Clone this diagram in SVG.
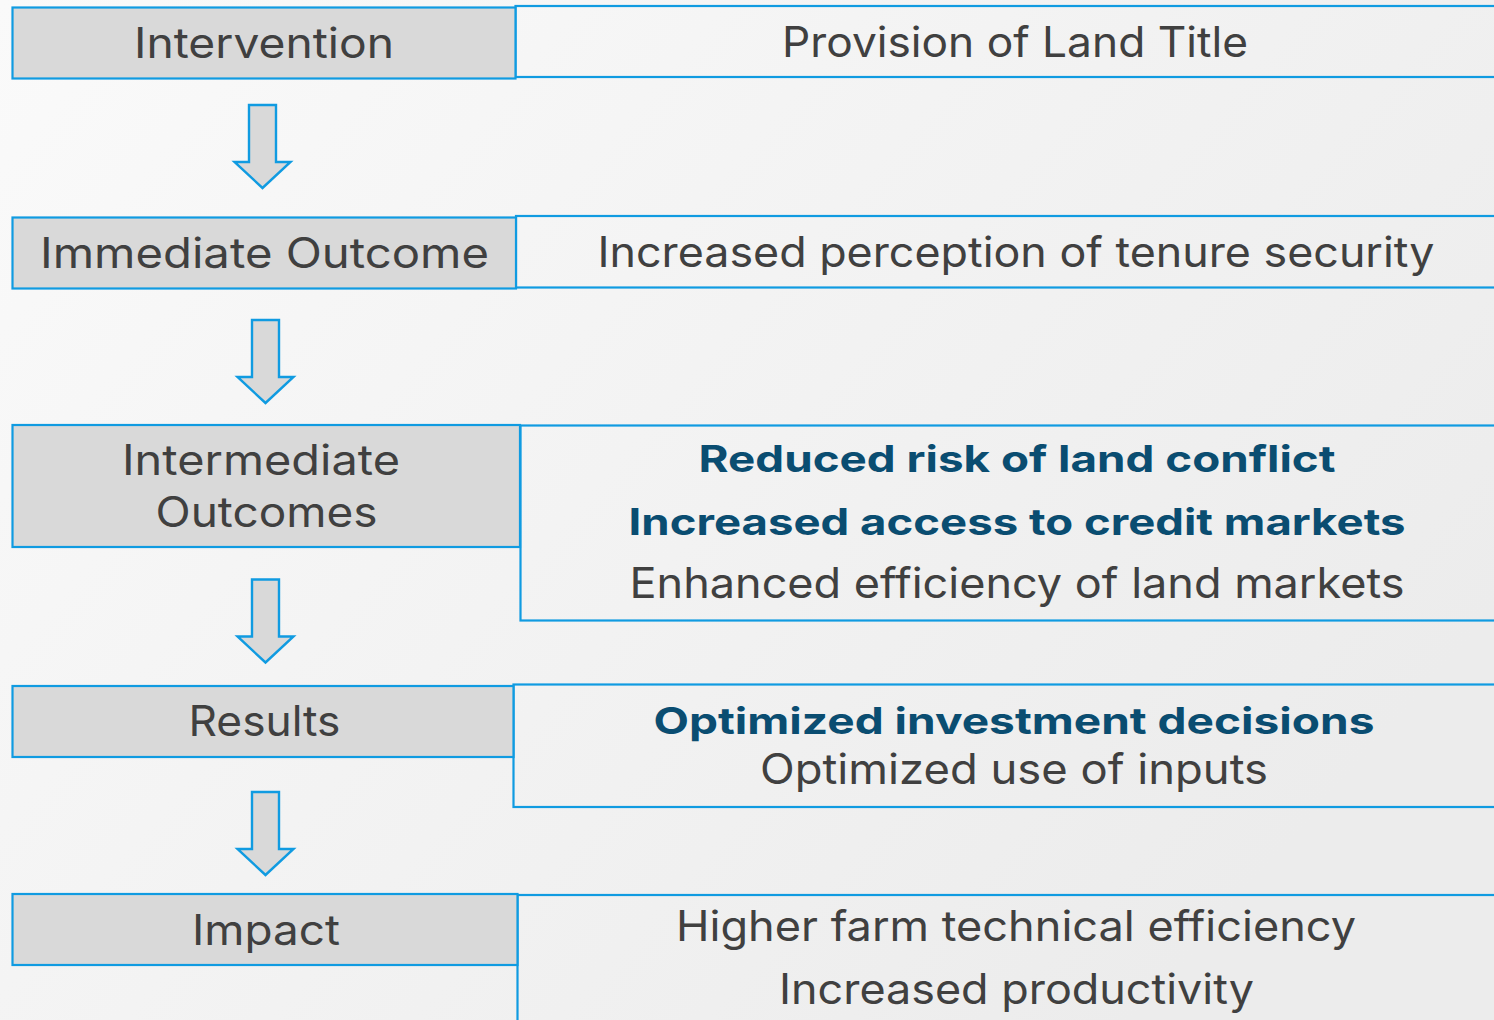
<svg xmlns="http://www.w3.org/2000/svg" width="1494" height="1020" viewBox="0 0 1494 1020">
  <defs>
    <linearGradient id="bg" x1="0" y1="0" x2="1" y2="0.6">
      <stop offset="0" stop-color="#fafafa"/>
      <stop offset="1" stop-color="#ececec"/>
    </linearGradient>
    <!-- block arrow, origin at top centre of the shaft -->
    <path id="down-arrow" d="M-13.5,0 H13.5 V57 H28 L0,83 L-28,57 H-13.5 Z"/>
  </defs>
  <style>
    .stage { fill: #d9d9d9; stroke: #109be1; stroke-width: 2.2; }
    .detail { fill: none; stroke: #109be1; stroke-width: 2.2; }
    .arrow { fill: #d9d9d9; stroke: #109be1; stroke-width: 2.4; stroke-linejoin: miter; }
    text { font-family: Inter, "Noto Sans", "DejaVu Sans", sans-serif; text-anchor: middle; }
    .lbl { font-size: 42px; fill: #404040; }
    .key { font-size: 37px; font-weight: bold; fill: #0a4d71; }
  </style>

  <rect x="0" y="0" width="1494" height="1020" fill="url(#bg)"/>

  <g id="connectors">
    <use href="#down-arrow" class="arrow" x="262.5" y="105"/>
    <use href="#down-arrow" class="arrow" x="265.5" y="320"/>
    <use href="#down-arrow" class="arrow" x="265.5" y="579.5"/>
    <use href="#down-arrow" class="arrow" x="265.5" y="792"/>
  </g>

  <g id="intervention">
    <rect class="detail" x="515.5" y="6" width="990" height="71"/>
    <rect class="stage" x="12.5" y="7.5" width="503" height="71"/>
    <text class="lbl" x="264" y="58" textLength="260" lengthAdjust="spacingAndGlyphs">Intervention</text>
    <text class="lbl" x="1015" y="57" textLength="466" lengthAdjust="spacingAndGlyphs">Provision of Land Title</text>
  </g>

  <g id="immediate-outcome">
    <rect class="detail" x="516" y="216" width="990" height="71.5"/>
    <rect class="stage" x="12.5" y="217.5" width="503.5" height="71"/>
    <text class="lbl" x="264.5" y="268" textLength="449" lengthAdjust="spacingAndGlyphs">Immediate Outcome</text>
    <text class="lbl" x="1016" y="267" textLength="837" lengthAdjust="spacingAndGlyphs">Increased perception of tenure security</text>
  </g>

  <g id="intermediate-outcomes">
    <rect class="detail" x="520.5" y="425.5" width="990" height="195"/>
    <rect class="stage" x="12.5" y="425" width="507.5" height="122"/>
    <text class="lbl" x="261" y="475" textLength="278" lengthAdjust="spacingAndGlyphs">Intermediate</text>
    <text class="lbl" x="266.5" y="526.5" textLength="222" lengthAdjust="spacingAndGlyphs">Outcomes</text>
    <text class="key" x="1017" y="471.5" textLength="637" lengthAdjust="spacingAndGlyphs">Reduced risk of land conflict</text>
    <text class="key" x="1017" y="535" textLength="777" lengthAdjust="spacingAndGlyphs">Increased access to credit markets</text>
    <text class="lbl" x="1017" y="598" textLength="775" lengthAdjust="spacingAndGlyphs">Enhanced efficiency of land markets</text>
  </g>

  <g id="results">
    <rect class="detail" x="513.5" y="684.5" width="990" height="122.5"/>
    <rect class="stage" x="12.5" y="686" width="501" height="71"/>
    <text class="lbl" x="264.5" y="736" textLength="152" lengthAdjust="spacingAndGlyphs">Results</text>
    <text class="key" x="1014" y="733.5" textLength="721" lengthAdjust="spacingAndGlyphs">Optimized investment decisions</text>
    <text class="lbl" x="1014" y="784" textLength="508" lengthAdjust="spacingAndGlyphs">Optimized use of inputs</text>
  </g>

  <g id="impact">
    <rect class="detail" x="517.5" y="895" width="990" height="140"/>
    <rect class="stage" x="12.5" y="894" width="505" height="71"/>
    <text class="lbl" x="266" y="945" textLength="148" lengthAdjust="spacingAndGlyphs">Impact</text>
    <text class="lbl" x="1016" y="941" textLength="680" lengthAdjust="spacingAndGlyphs">Higher farm technical efficiency</text>
    <text class="lbl" x="1016.5" y="1004" textLength="475" lengthAdjust="spacingAndGlyphs">Increased productivity</text>
  </g>
</svg>
